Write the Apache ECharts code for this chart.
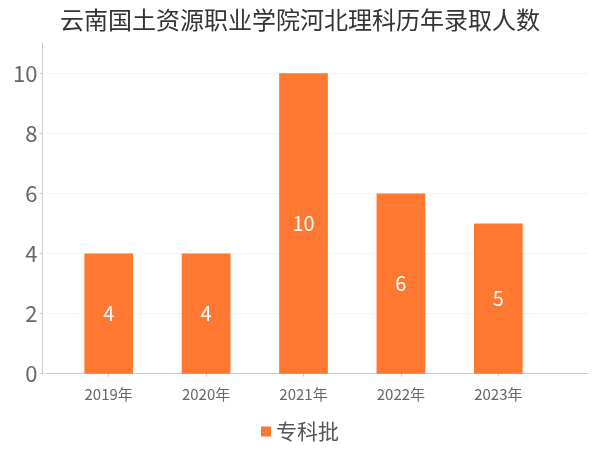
<!DOCTYPE html>
<html><head><meta charset="utf-8">
<script src="https://cdn.jsdelivr.net/npm/echarts@6/dist/echarts.min.js"></script>
<style>html,body{margin:0;padding:0;background:#fff}#c{width:600px;height:450px}</style>
</head><body><div id="c"></div>
<script>
var titleText = '云南国土资源职业学院河北理科历年录取人数';
var categories = ['2019年','2020年','2021年','2022年','2023年'];
var seriesName = '专科批';
var values = [4, 4, 10, 6, 5];
var yTicks = { min: 0, max: 11, interval: 2 };

var font = '"Noto Sans CJK SC", "Noto Sans", sans-serif';
var chart = echarts.init(document.getElementById('c'));
chart.setOption({
  animation: false,
  textStyle: { fontFamily: font },
  title: { text: titleText, left: 'center', top: 3,
    textStyle: { fontSize: 24, fontWeight: 'normal', color: '#333', fontFamily: font } },
  legend: { data: [seriesName], bottom: 3, left: 'center', itemWidth: 10, itemHeight: 10, icon: 'rect', itemGap: 4,
    textStyle: { fontSize: 21, color: '#555', fontFamily: font } },
  grid: [
    { left: 60, right: 53, top: 43.3, bottom: 76.3 },
    { left: 46, right: 12, top: 43.3, bottom: 76.3 }
  ],
  xAxis: [
    { type: 'category', data: categories, gridIndex: 0, offset: 4,
      axisLine: { show: false },
      axisTick: { show: true, alignWithLabel: true, length: 3, lineStyle: { color: '#ccc' } },
      axisLabel: { fontSize: 15, color: '#666', margin: 9, fontFamily: font } },
    { type: 'value', gridIndex: 1, min: 0, max: 1, offset: 4,
      axisLine: { show: true, lineStyle: { color: '#ccc' } },
      axisTick: { show: false }, axisLabel: { show: false }, splitLine: { show: false } }
  ],
  yAxis: [
    { type: 'value', gridIndex: 0, min: yTicks.min, max: yTicks.max, interval: yTicks.interval, offset: 17.5,
      axisLine: { show: true, lineStyle: { color: '#ccc' } },
      axisTick: { show: true, length: 3, lineStyle: { color: '#ccc' } },
      axisLabel: { fontSize: 22, color: '#666', margin: 5, fontFamily: font,
        showMaxLabel: false },
      splitLine: { show: false } },
    { type: 'value', gridIndex: 1, min: yTicks.min, max: yTicks.max, interval: yTicks.interval,
      axisLine: { show: false }, axisTick: { show: false }, axisLabel: { show: false },
      splitLine: { show: true, showMaxLine: false, showMinLine: false, lineStyle: { color: '#f3f3f3' } } }
  ],
  series: [{
    name: seriesName, type: 'bar', xAxisIndex: 0, yAxisIndex: 0,
    data: values, barWidth: '50%',
    itemStyle: { color: '#ff7831' },
    label: { show: true, position: 'inside', color: '#fff', fontSize: 20, fontFamily: font }
  }]
});
</script></body></html>
